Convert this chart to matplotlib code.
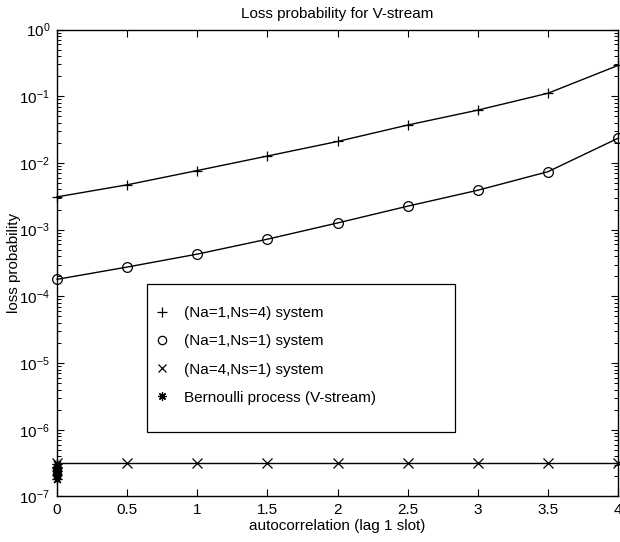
import matplotlib
matplotlib.use("Agg")
import matplotlib.pyplot as plt
from matplotlib.lines import Line2D
from matplotlib.patches import Rectangle
from matplotlib.ticker import LogLocator, FixedLocator, NullFormatter

plt.rcParams['font.family'] = ['Liberation Sans', 'DejaVu Sans']
plt.rcParams['mathtext.fontset'] = 'custom'
plt.rcParams['mathtext.rm'] = 'Liberation Sans'
plt.rcParams['mathtext.it'] = 'Liberation Sans:italic'
plt.rcParams['mathtext.bf'] = 'Liberation Sans:bold'

# ---- data ----
autocorr = [0, 0.5, 1, 1.5, 2, 2.5, 3, 3.5, 4]
loss_na1_ns4 = [3.1e-3, 4.7e-3, 7.7e-3, 1.27e-2, 2.1e-2, 3.7e-2, 6.2e-2, 1.11e-1, 2.9e-1]
loss_na1_ns1 = [1.8e-4, 2.75e-4, 4.3e-4, 7.2e-4, 1.26e-3, 2.25e-3, 3.9e-3, 7.4e-3, 2.35e-2]
loss_na4_ns1 = [3.15e-7, 3.15e-7, 3.15e-7, 3.15e-7, 3.15e-7, 3.15e-7, 3.15e-7, 3.15e-7, 3.15e-7]
bern_x = [0, 0, 0, 0, 0]
bern_loss = [3.1e-7, 2.75e-7, 2.4e-7, 2.1e-7, 1.85e-7]
circ_extra_x = [0, 0]
circ_extra_loss = [2.6e-7, 2.2e-7]

labels = ['(Na=1,Ns=4) system', '(Na=1,Ns=1) system',
          '(Na=4,Ns=1) system', 'Bernoulli process (V-stream)']
xticks = [0, 0.5, 1, 1.5, 2, 2.5, 3, 3.5, 4]
xticklabels = ['0', '0.5', '1', '1.5', '2', '2.5', '3', '3.5', '4']

asterisk = (8, 2, 0)

fig = plt.figure(figsize=(6.2, 5.42), dpi=100)
ax = fig.add_axes([0.092, 0.084, 0.905, 0.8615])

lw = 1.0
ax.plot(autocorr, loss_na1_ns4, color='black', lw=lw, marker='+', ms=7, mew=0.9, clip_on=False)
ax.plot(autocorr, loss_na1_ns1, color='black', lw=lw, marker='o', ms=7, mfc='none', mew=0.9, clip_on=False)
ax.plot(autocorr, loss_na4_ns1, color='black', lw=lw, marker='x', ms=7, mew=0.9, clip_on=False)
ax.plot(bern_x, bern_loss, color='black', ls='none', marker=asterisk, ms=7, mew=0.9, clip_on=False)
ax.plot(circ_extra_x, circ_extra_loss, color='black', ls='none', marker='o', ms=6, mfc='none', mew=0.9, clip_on=False)

ax.set_yscale('log')
ax.set_xlim(0, 4)
ax.set_ylim(1e-7, 1)
ax.xaxis.set_major_locator(FixedLocator(xticks))
ax.set_xticklabels(xticklabels)
ax.yaxis.set_major_locator(LogLocator(base=10, numticks=20))
ax.yaxis.set_minor_locator(LogLocator(base=10, subs=range(2, 10), numticks=100))
ax.yaxis.set_minor_formatter(NullFormatter())

ax.tick_params(which='both', direction='in', top=True, right=True, labelsize=11, colors='black')
ax.tick_params(which='major', length=5, width=0.8, pad=5)
ax.tick_params(which='minor', length=3, width=0.7)
for s in ax.spines.values():
    s.set_linewidth(1.0)

ax.set_title('Loss probability for V-stream', fontsize=11, pad=8)
ax.set_xlabel('autocorrelation (lag 1 slot)', fontsize=11, labelpad=1)
ax.set_ylabel('loss probability', fontsize=11)
ax.yaxis.set_label_coords(-0.064, 0.5)

handles = [
    Line2D([], [], color='black', ls='none', marker='+', ms=7, mew=0.9),
    Line2D([], [], color='black', ls='none', marker='o', ms=6, mfc='none', mew=0.9),
    Line2D([], [], color='black', ls='none', marker='x', ms=6, mew=0.9),
    Line2D([], [], color='black', ls='none', marker=asterisk, ms=6, mew=0.9),
]
ax.add_patch(Rectangle((0.160, 0.138), 0.549, 0.317, transform=ax.transAxes,
                       fill=True, facecolor='white', edgecolor='black', lw=0.9, zorder=4))
leg = ax.legend(handles, labels, loc='upper left', bbox_to_anchor=(0.174, 0.407),
                frameon=False, fontsize=11, handlelength=1.0, handletextpad=0.9,
                labelspacing=0.92, borderpad=0, borderaxespad=0)
leg.set_zorder(5)

fig.savefig('out.png', dpi=100)
